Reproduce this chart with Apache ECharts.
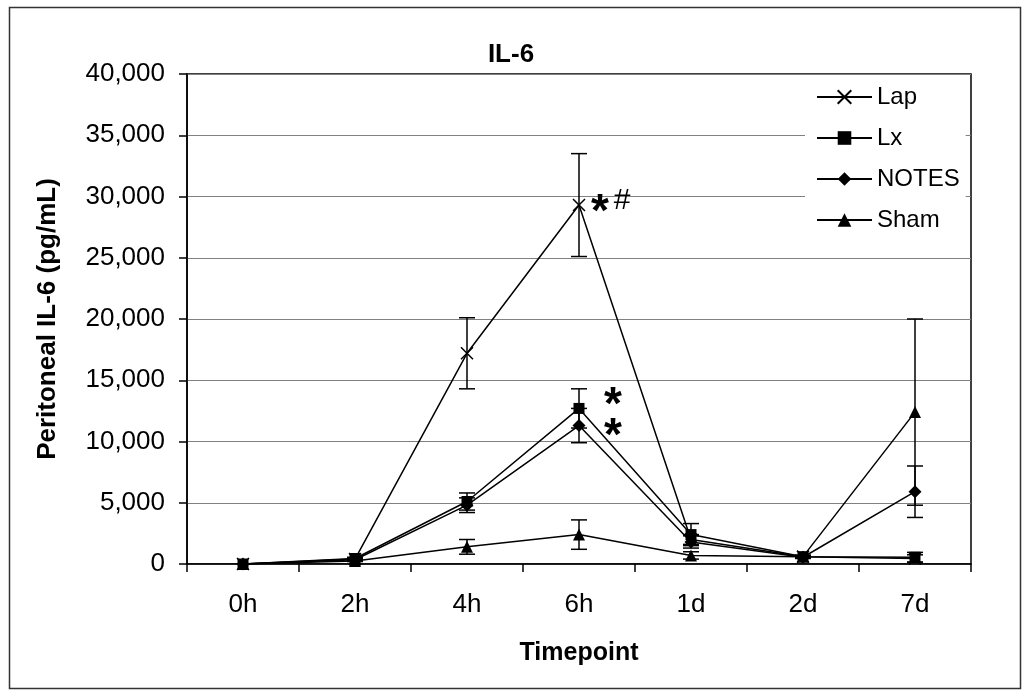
<!DOCTYPE html>
<html>
<head>
<meta charset="utf-8">
<title>IL-6</title>
<script src="https://cdn.jsdelivr.net/npm/echarts@6/dist/echarts.min.js"></script>
<style>
  html, body { margin: 0; padding: 0; background: #fff; }
  #chart { width: 1022px; height: 691px; }
</style>
</head>
<body>
<div id="chart"></div>
<script>
// timepoints on the x axis
const timepoints = ['0h', '2h', '4h', '6h', '1d', '2d', '7d']

// mean peritoneal IL-6 (pg/mL) and error (+/-) per group
const lap = [0, 400, 17200, 29300, 2000, 600, 450]
const lapErr = [0, 100, 2900, 4200, 400, 100, 300]
const lx = [0, 450, 5100, 12700, 2400, 600, 550]
const lxErr = [0, 100, 700, 1600, 900, 100, 400]
const notes = [0, 350, 4800, 11300, 1800, 550, 5900]
const notesErr = [0, 100, 600, 1400, 500, 100, 2100]
const sham = [0, 250, 1400, 2400, 700, 600, 12400]
const shamErr = [0, 50, 600, 1200, 300, 100, 7600]

// significance marks
const markCats = ['6h', '6h', '6h']
const markVals = [29500, 13800, 11200]
const markTexts = ['*#', '*', '*']

const FONT = '"Liberation Sans", Arial, sans-serif'

const chart = echarts.init(document.getElementById('chart'))

function errorBars(name, vals, errs) {
  return {
    name: name + ' err',
    type: 'custom',
    z: 3,
    silent: true,
    data: vals.map((v, i) => [i, v, errs[i]]),
    encode: { x: 0, y: 1 },
    renderItem(params, api) {
      const i = api.value(0)
      const v = api.value(1)
      const e = api.value(2)
      if (!e) return null
      const hi = api.coord([i, v + e])
      const lo = api.coord([i, Math.max(v - e, 0)])
      const w = 8
      const st = { stroke: '#000', lineWidth: 1.5 }
      return {
        type: 'group',
        children: [
          { type: 'line', shape: { x1: hi[0], y1: hi[1], x2: lo[0], y2: lo[1] }, style: st },
          { type: 'line', shape: { x1: hi[0] - w, y1: hi[1], x2: hi[0] + w, y2: hi[1] }, style: st },
          { type: 'line', shape: { x1: lo[0] - w, y1: lo[1], x2: lo[0] + w, y2: lo[1] }, style: st }
        ]
      }
    }
  }
}

function lineSeries(name, vals, symbol, size) {
  return {
    name: name,
    type: 'line',
    z: 5,
    data: vals,
    symbol: symbol,
    symbolSize: size,
    showAllSymbol: true,
    lineStyle: { color: '#000', width: 1.5 },
    itemStyle: { color: '#000', borderColor: '#000', borderWidth: symbol.indexOf('path') === 0 ? 1.5 : 0 },
    emphasis: { disabled: true }
  }
}

chart.setOption({
  animation: false,
  backgroundColor: '#fff',
  textStyle: { fontFamily: FONT, color: '#000' },
  title: {
    text: 'IL-6',
    left: 'center',
    top: 37,
    textStyle: { fontFamily: FONT, fontWeight: 'bold', fontSize: 26, color: '#000' }
  },
  legend: {
    data: ['Lap', 'Lx', 'NOTES', 'Sham'],
    orient: 'vertical',
    left: 805,
    top: 75,
    padding: [10, 6, 10, 11],
    itemGap: 17,
    itemWidth: 55,
    itemHeight: 17,
    backgroundColor: '#fff',
    textStyle: { fontFamily: FONT, fontSize: 24, color: '#000', lineHeight: 24 },
    selectedMode: false
  },
  grid: {
    left: 187,
    right: 51,
    top: 74,
    bottom: 127,
    show: true,
    borderColor: '#000',
    borderWidth: 1.5
  },
  xAxis: {
    type: 'category',
    data: timepoints,
    boundaryGap: true,
    name: 'Timepoint',
    nameLocation: 'middle',
    nameGap: 77,
    nameTextStyle: { fontFamily: FONT, fontWeight: 'bold', fontSize: 25, color: '#000' },
    axisLine: { lineStyle: { color: '#000', width: 1.5 } },
    axisTick: { show: true, inside: false, length: 8, alignWithLabel: false, lineStyle: { color: '#000', width: 1.5 } },
    axisLabel: { fontFamily: FONT, fontSize: 26, color: '#000', margin: 28 },
    splitLine: { show: false }
  },
  yAxis: {
    type: 'value',
    min: 0,
    max: 40000,
    interval: 5000,
    name: 'Peritoneal IL-6 (pg/mL)',
    nameLocation: 'middle',
    nameGap: 126,
    nameTextStyle: { fontFamily: FONT, fontWeight: 'bold', fontSize: 26, color: '#000' },
    axisLine: { show: true, lineStyle: { color: '#000', width: 1.5 } },
    axisTick: { show: true, inside: false, length: 8, lineStyle: { color: '#000', width: 1.5 } },
    axisLabel: {
      fontFamily: FONT,
      fontSize: 26,
      color: '#000',
      margin: 22,
      formatter: v => v.toLocaleString('en-US')
    },
    splitLine: { show: true, lineStyle: { color: '#808080', width: 1.2 } }
  },
  graphic: [{
    type: 'rect',
    left: 7,
    top: 5,
    shape: { width: 1011, height: 681 },
    style: { fill: 'none', stroke: '#333', lineWidth: 1.5 },
    silent: true,
    z: -1
  }],
  series: [
    errorBars('Lap', lap, lapErr),
    errorBars('Lx', lx, lxErr),
    errorBars('NOTES', notes, notesErr),
    errorBars('Sham', sham, shamErr),
    lineSeries('Lap', lap, 'path://M0,0L10,10M0,10L10,0', 12),
    lineSeries('Lx', lx, 'rect', 11),
    lineSeries('NOTES', notes, 'diamond', 13),
    lineSeries('Sham', sham, 'triangle', 12),
    {
      name: 'marks',
      type: 'custom',
      z: 6,
      silent: true,
      data: markCats.map((c, i) => [timepoints.indexOf(c), markVals[i], i]),
      encode: { x: 0, y: 1 },
      renderItem(params, api) {
        const p = api.coord([api.value(0), api.value(1)])
        const txt = markTexts[api.value(2)]
        const dx = txt.indexOf('#') >= 0 ? 21 : 34
        const kids = [{
          type: 'text',
          style: {
            text: '*',
            x: p[0] + dx,
            y: p[1] + 11,
            align: 'center',
            verticalAlign: 'middle',
            font: 'bold 46px ' + FONT,
            fill: '#000'
          }
        }]
        if (txt.indexOf('#') >= 0) {
          kids.push({
            type: 'text',
            style: {
              text: '#',
              x: p[0] + dx + 22,
              y: p[1] - 2,
              align: 'center',
              verticalAlign: 'middle',
              font: '30px ' + FONT,
              fill: '#000'
            }
          })
        }
        return { type: 'group', children: kids }
      }
    }
  ]
})
</script>
</body>
</html>
